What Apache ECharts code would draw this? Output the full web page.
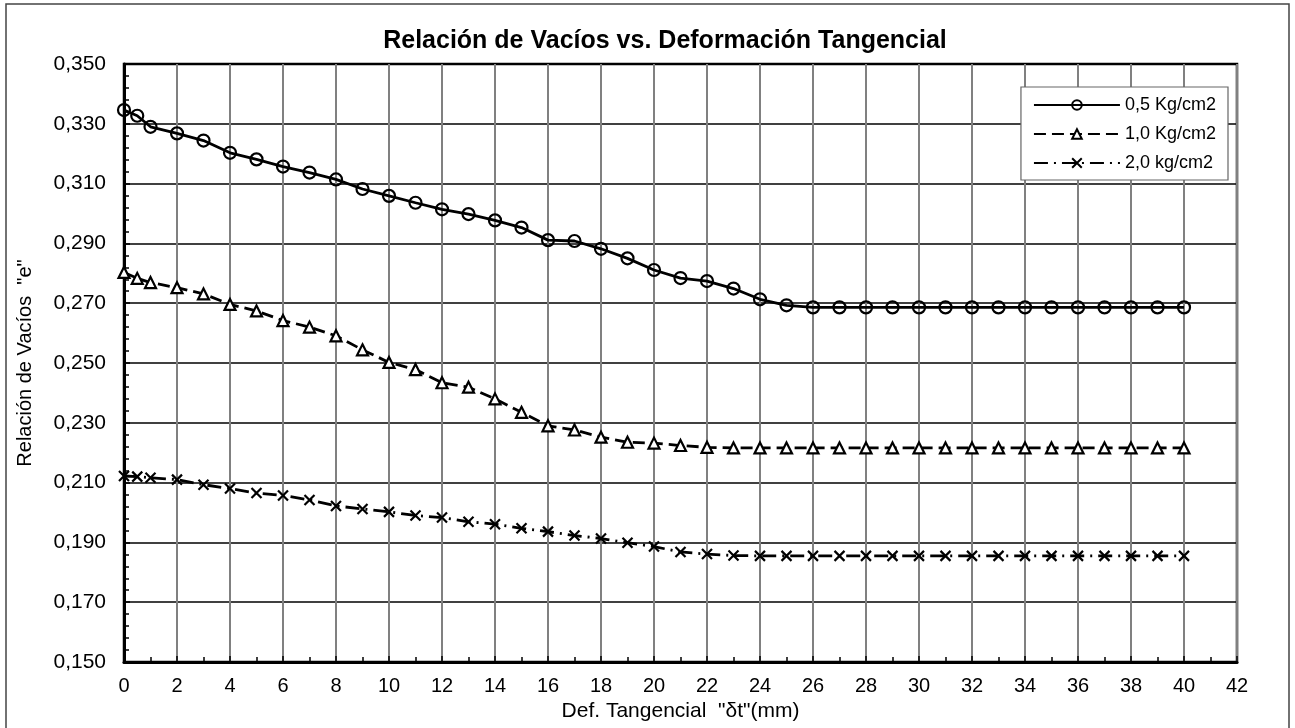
<!DOCTYPE html>
<html>
<head>
<meta charset="utf-8">
<script src="https://cdn.jsdelivr.net/npm/echarts@6/dist/echarts.min.js"></script>
<style>
  html, body { margin: 0; padding: 0; background: #fff; }
  #chart { width: 1295px; height: 728px; }
</style>
</head>
<body>
<div id="chart"></div>
<script>
// Deformación tangencial (mm) de cada lectura
const defTangencial = [0, 0.5, 1, 2, 3, 4, 5, 6, 7, 8, 9, 10, 11, 12, 13, 14, 15, 16, 17, 18, 19, 20,
  21, 22, 23, 24, 25, 26, 27, 28, 29, 30, 31, 32, 33, 34, 35, 36, 37, 38, 39, 40];

// Relación de vacíos "e" para cada carga normal
const e05 = [0.3346, 0.3327, 0.3290, 0.3268, 0.3244, 0.3203, 0.3181, 0.3157, 0.3137, 0.3114, 0.3082, 0.3059,
  0.3036, 0.3014, 0.2998, 0.2977, 0.2953, 0.2911, 0.2908, 0.2882, 0.2850, 0.2811,
  0.2784, 0.2774, 0.2749, 0.2713, 0.2693, 0.2686, 0.2686, 0.2686, 0.2686, 0.2686, 0.2686, 0.2686,
  0.2686, 0.2686, 0.2686, 0.2686, 0.2686, 0.2686, 0.2686, 0.2686];
const e10 = [0.2803, 0.2783, 0.2769, 0.2752, 0.2731, 0.2696, 0.2674, 0.2642, 0.2620, 0.2591, 0.2544, 0.2502,
  0.2478, 0.2434, 0.2419, 0.2380, 0.2335, 0.2290, 0.2276, 0.2252, 0.2235, 0.2232,
  0.2224, 0.2218, 0.2216, 0.2216, 0.2216, 0.2216, 0.2216, 0.2216, 0.2216, 0.2216, 0.2216, 0.2216,
  0.2216, 0.2216, 0.2216, 0.2216, 0.2216, 0.2216, 0.2216, 0.2216];
const e20 = [0.2122, 0.2120, 0.2116, 0.2110, 0.2093, 0.2080, 0.2065, 0.2057, 0.2042, 0.2022, 0.2012, 0.2002,
  0.1990, 0.1983, 0.1969, 0.1961, 0.1947, 0.1936, 0.1923, 0.1913, 0.1899, 0.1886,
  0.1868, 0.1861, 0.1856, 0.1855, 0.1855, 0.1855, 0.1855, 0.1855, 0.1855, 0.1855, 0.1855, 0.1855,
  0.1855, 0.1855, 0.1855, 0.1855, 0.1855, 0.1855, 0.1855, 0.1855];

const serieNames = ['0,5 Kg/cm2', '1,0 Kg/cm2', '2,0 kg/cm2'];

const pairs = ys => defTangencial.map((x, i) => [x, ys[i]]);
const FONT = 'Liberation Sans, Arial, sans-serif';
const crossSymbol = 'path://M0,0L10,10M10,0L0,10';

const chart = echarts.init(document.getElementById('chart'), null, { renderer: 'canvas' });

chart.setOption({
  backgroundColor: '#fff',
  animation: false,
  textStyle: { fontFamily: FONT, color: '#000' },
  title: {
    text: 'Relación de Vacíos vs. Deformación Tangencial',
    left: 660, top: 24, textAlign: 'center',
    textStyle: { fontFamily: FONT, fontSize: 25, fontWeight: 'bold', color: '#000' }
  },
  graphic: [{
    type: 'rect', silent: true, z: -1,
    shape: { x: 6, y: 4, width: 1283, height: 740 },
    style: { fill: 'none', stroke: '#444', lineWidth: 1.5 }
  }],
  legend: {
    orient: 'vertical',
    right: 67, top: 87,
    itemWidth: 86, itemHeight: 12, itemGap: 11,
    padding: [9, 12, 8, 12],
    backgroundColor: '#fff',
    borderColor: '#666', borderWidth: 1.2,
    textStyle: { fontFamily: FONT, fontSize: 18, color: '#000' },
    data: serieNames
  },
  grid: {
    left: 124, right: 58, top: 64, bottom: 66,
    show: true, borderColor: '#000', borderWidth: 2.5, backgroundColor: 'transparent'
  },
  xAxis: {
    type: 'value', min: 0, max: 42, interval: 2,
    name: 'Def. Tangencial  "δt"(mm)',
    nameLocation: 'middle', nameGap: 38,
    nameTextStyle: { fontFamily: FONT, fontSize: 21, color: '#000' },
    axisLine: { show: true, lineStyle: { color: '#000', width: 3 } },
    axisTick: { show: true, inside: true, length: 6, lineStyle: { color: '#000', width: 1.5 } },
    minorTick: { show: true, splitNumber: 2, length: 5, lineStyle: { color: '#000', width: 1.5 } },
    axisLabel: { fontFamily: FONT, fontSize: 20, color: '#000', margin: 14 },
    splitLine: { show: true, lineStyle: { color: '#808080', width: 2 } }
  },
  yAxis: {
    type: 'value', min: 0.15, max: 0.35, interval: 0.02,
    name: 'Relación de Vacíos  "e"',
    nameLocation: 'middle', nameGap: 89,
    nameTextStyle: { fontFamily: FONT, fontSize: 20, color: '#000' },
    axisLine: { show: true, lineStyle: { color: '#000', width: 3 } },
    axisTick: { show: true, inside: true, length: 6, lineStyle: { color: '#000', width: 1.5 } },
    minorTick: { show: true, splitNumber: 5, length: 5, lineStyle: { color: '#000', width: 1.5 } },
    axisLabel: {
      fontFamily: FONT, fontSize: 21, color: '#000', margin: 18,
      formatter: v => v.toFixed(3).replace('.', ',')
    },
    splitLine: { show: true, lineStyle: { color: '#000', width: 1.5 } }
  },
  series: [
    {
      name: serieNames[0], type: 'line', data: pairs(e05),
      symbol: 'circle', symbolSize: 12,
      lineStyle: { color: '#000', width: 2.8, type: 'solid' },
      itemStyle: { color: 'rgba(255,255,255,0)', borderColor: '#000', borderWidth: 2.2 }
    },
    {
      name: serieNames[1], type: 'line', data: pairs(e10),
      symbol: 'triangle', symbolSize: 11,
      lineStyle: { color: '#000', width: 2.8, type: [12, 6] },
      itemStyle: { color: '#fff', borderColor: '#000', borderWidth: 2.2 }
    },
    {
      name: serieNames[2], type: 'line', data: pairs(e20),
      symbol: crossSymbol, symbolSize: 10,
      lineStyle: { color: '#000', width: 2.8, type: [14, 6, 2, 6] },
      itemStyle: { color: '#000', borderColor: '#000', borderWidth: 2.2 }
    }
  ]
});
</script>
</body>
</html>
